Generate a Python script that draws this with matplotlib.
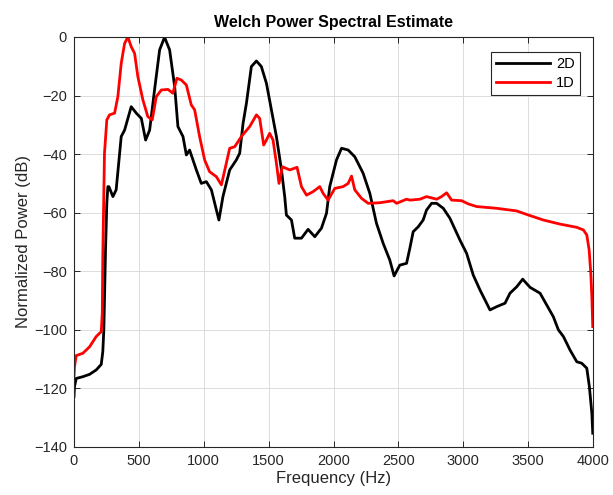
import matplotlib
matplotlib.use("Agg")
import matplotlib.pyplot as plt

# 2D spectrum (black)
freq_2d = [0, 4, 17, 68, 120, 171, 210, 222, 230, 235, 243, 253, 261, 269, 300, 325,
           364, 390, 441, 480, 519, 552, 583, 621, 660, 698, 737, 776, 801, 840, 866,
           891, 943, 981, 1020, 1059, 1097, 1117, 1148, 1200, 1251, 1277, 1303, 1329,
           1367, 1406, 1444, 1483, 1522, 1560, 1599, 1624, 1637, 1676, 1701, 1753, 1804,
           1856, 1907, 1946, 1971, 2023, 2062, 2113, 2164, 2228, 2280, 2331, 2383, 2434,
           2467, 2511, 2563, 2589, 2614, 2653, 2691, 2717, 2756, 2795, 2846, 2897, 2974,
           3026, 3077, 3129, 3206, 3257, 3322, 3360, 3412, 3458, 3515, 3592, 3643, 3694,
           3733, 3772, 3823, 3875, 3913, 3952, 3972, 3991, 3998]
psd_2d = [-122.8, -119.4, -116.6, -116, -115.2, -113.7, -111.8, -107.5, -100, -89.8,
          -72.7, -56.8, -51.1, -51.1, -54.5, -52.2, -34, -31.8, -23.8, -26, -27.8, -35.2,
          -31.8, -18, -4.4, -0.1, -4.4, -17, -30.6, -34, -40.3, -38.6, -45.4, -50, -49.4,
          -52.2, -59, -62.5, -54.5, -45.4, -42, -39.7, -29.5, -22.6, -10.1, -8.2, -10.1,
          -15.8, -25, -34, -45.4, -54.5, -60.8, -62.5, -68.7, -68.7, -65.7, -68.2, -65.3,
          -60.2, -51.1, -42, -38, -38.6, -40.9, -46.5, -53.4, -63.6, -70.5, -76.2, -81.6,
          -77.9, -77.3, -72, -66.5, -64.8, -62.5, -59.1, -56.8, -56.8, -58.5, -61.9,
          -69.3, -73.9, -81.3, -86.4, -93.2, -92.1, -90.9, -87.5, -85.3, -82.7, -85.5,
          -87.5, -91.5, -95.5, -100, -102.3, -106.9, -110.9, -111.4, -113.1, -119.4,
          -128.5, -135.3]

# 1D spectrum (red)
freq_1d = [0, 4, 17, 68, 120, 171, 210, 218, 222, 235, 253, 274, 313, 338, 364, 390,
           415, 441, 467, 492, 531, 569, 603, 634, 673, 724, 762, 793, 827, 866, 904,
           930, 968, 1007, 1045, 1097, 1136, 1174, 1200, 1238, 1290, 1354, 1406, 1431,
           1462, 1483, 1508, 1534, 1560, 1580, 1606, 1663, 1719, 1753, 1792, 1843, 1894,
           1920, 1958, 2010, 2074, 2113, 2139, 2164, 2216, 2267, 2357, 2460, 2486, 2563,
           2589, 2666, 2717, 2795, 2833, 2872, 2910, 2987, 3039, 3103, 3257, 3412, 3502,
           3617, 3746, 3875, 3926, 3952, 3970, 3983, 3991, 3998]
psd_1d = [-116, -112.6, -108.8, -108, -105.8, -102.3, -100.6, -94.4, -75, -39.7, -28.3,
          -26.6, -26, -20.4, -9, -2.2, 0, -3.3, -5.6, -13.5, -21.5, -27.2, -28.3, -20.4,
          -18.1, -17.9, -19.2, -14.1, -14.7, -16.4, -23.2, -24.9, -34, -42, -46, -47.7,
          -50.5, -43.1, -38, -37.5, -34, -30.6, -26.6, -27.8, -36.9, -35.2, -32.9, -35.2,
          -43.1, -50, -44.3, -45.4, -44.5, -51.1, -54, -52.8, -51.1, -53.4, -55.7, -51.7,
          -51.1, -50, -47.5, -52.2, -55.1, -56.8, -56.6, -55.9, -56.8, -55.4, -55.7,
          -55.4, -54.5, -55.4, -54.5, -53.2, -55.7, -55.9, -57, -57.9, -58.5, -59.4,
          -60.8, -62.5, -63.9, -65, -65.9, -67.6, -72.7, -80.7, -88.7, -98.9]

x_ticks = list(range(0, 4001, 500))
y_ticks = list(range(-140, 1, 20))

plt.rcParams["font.family"] = ["Liberation Sans", "DejaVu Sans"]

fig = plt.figure(figsize=(6.13, 4.95), dpi=100)
ax = fig.add_axes([0.1207, 0.097, 0.8467, 0.8283])

ax.plot(freq_2d, psd_2d, color="black", linewidth=2.0, label="2D")
ax.plot(freq_1d, psd_1d, color="#ff0000", linewidth=2.0, label="1D")

ax.set_xlim(0, 4000)
ax.set_ylim(-140, 0)
ax.set_xticks(x_ticks)
ax.set_yticks(y_ticks)
ax.grid(True, color="#dcdcdc", linewidth=0.7)
ax.set_axisbelow(True)

for side in ax.spines.values():
    side.set_color("#262626")
    side.set_linewidth(0.8)
ax.tick_params(direction="in", top=True, right=True, length=4, width=0.7,
               colors="#262626", labelsize=10.5, pad=5)

ax.set_xlabel("Frequency (Hz)", fontsize=12, color="#262626", labelpad=2)
ax.set_ylabel("Normalized Power (dB)", fontsize=12, color="#262626", labelpad=2)
ax.set_title("Welch Power Spectral Estimate", fontsize=11.5, fontweight="bold", pad=7)

leg = ax.legend(loc="upper right", fontsize=10.5, fancybox=False, framealpha=1,
                edgecolor="#262626", handlelength=3.7, handletextpad=0.4,
                borderpad=0.35, labelspacing=0.3, borderaxespad=0,
                bbox_to_anchor=(0.975, 0.963))
leg.get_frame().set_linewidth(0.8)

fig.savefig("out.png", dpi=100)
